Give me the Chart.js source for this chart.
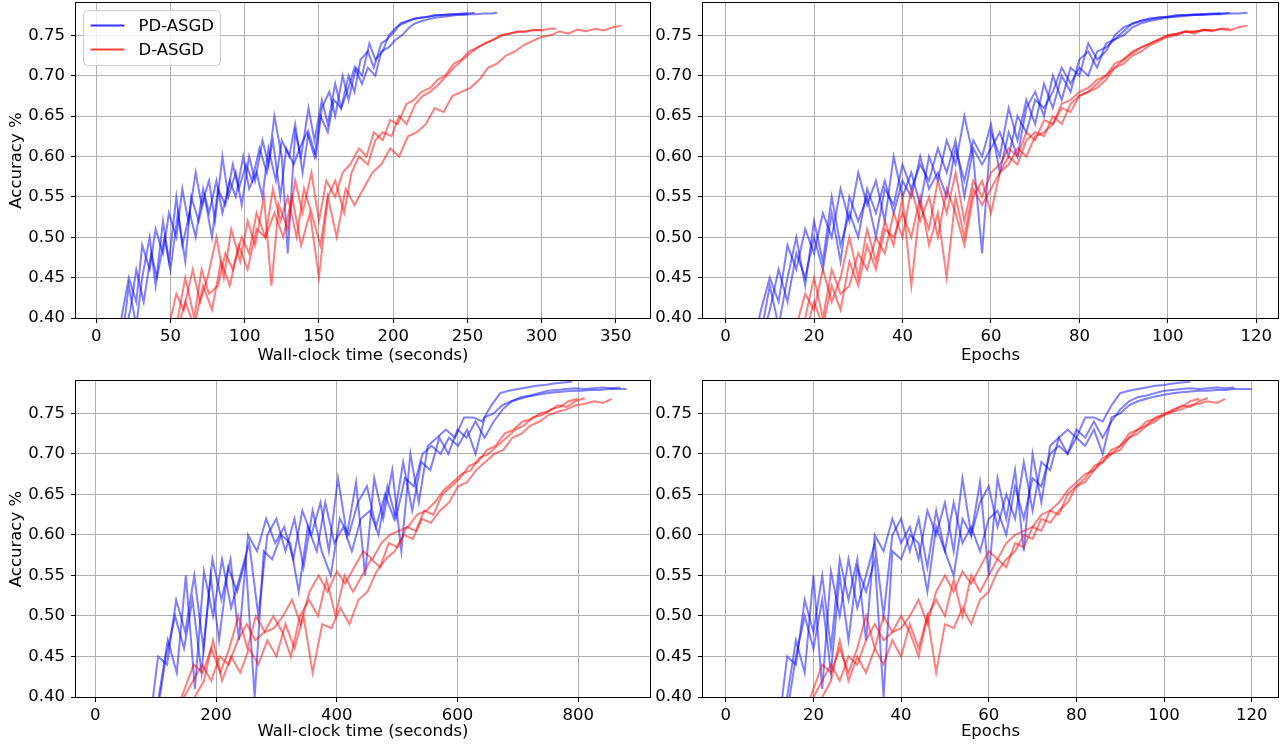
<!DOCTYPE html>
<html>
<head>
<meta charset="utf-8">
<script src="https://cdn.jsdelivr.net/npm/chart.js@4.4.0/dist/chart.umd.min.js"></script>
<style>
  body { margin: 0; background: #fff; }
  #wrap { position: relative; width: 1282px; height: 745px; overflow: hidden; background: #fff; }
  canvas { position: absolute; }
</style>
</head>
<body>
<div id="wrap">
  <canvas id="c-tl" width="660" height="372" style="left:0px;top:0px"></canvas>
  <canvas id="c-tr" width="652" height="372" style="left:630px;top:0px"></canvas>
  <canvas id="c-bl" width="660" height="373" style="left:0px;top:372px"></canvas>
  <canvas id="c-br" width="652" height="373" style="left:630px;top:372px"></canvas>
</div>
<script>
// ---- data ----
const legendNames = ['PD-ASGD', 'D-ASGD'];
const yTickVals = [0.40, 0.45, 0.50, 0.55, 0.60, 0.65, 0.70, 0.75];
const timeTicksTop = [0, 50, 100, 150, 200, 250, 300, 350];
const timeTicksBottom = [0, 200, 400, 600, 800];
const epochTicks = [0, 20, 40, 60, 80, 100, 120];

// epochs at which accuracy was logged
const epochsTop = [6,8,10,12,14,16,18,20,22,24,26,28,30,32,34,36,38,40,42,44,46,48,50,52,54,56,58,60,62,64,66,68,70,72,74,76,78,80,82,84,86,88,90,92,94,96,98,100,102,104,106,108,110,112,114,116,118];
const epochsBottom = [12,14,16,18,20,22,24,26,28,30,32,34,36,38,40,42,44,46,48,50,52,54,56,58,60,62,64,66,68,70,72,74,76,78,80,82,84,86,88,90,92,94,96,98,100,102,104,106,108,110,112,114,116,118,120];

// top row, PD-ASGD
const topPdAcc1 = [0.36,0.41,0.45,0.42,0.49,0.46,0.51,0.48,0.53,0.50,
  0.56,0.52,0.58,0.54,0.57,0.52,0.60,0.55,0.58,0.54,
  0.60,0.57,0.62,0.59,0.65,0.60,0.48,0.63,0.60,0.66,
  0.62,0.67,0.64,0.69,0.66,0.70,0.68,0.72,0.73,0.71,
  0.74,0.745,0.755,0.765,0.768,0.770,0.772,0.773,0.774,0.775,
  0.775,0.776,0.776,0.777];
const topPdTime1 = [13,18,22,27,31,36,40,45,49,54,
  58,62,67,71,76,80,85,89,94,98,
  103,107,112,116,120,125,129,134,138,143,
  147,152,156,161,165,170,174,178,183,187,
  192,196,201,205,210,214,219,223,227,232,
  236,241,245,250];
const topPdAcc2 = [0.34,0.38,0.44,0.39,0.45,0.50,0.44,0.52,0.47,0.55,
  0.49,0.53,0.50,0.56,0.53,0.57,0.53,0.57,0.55,0.60,
  0.56,0.58,0.55,0.61,0.57,0.62,0.60,0.64,0.58,0.63,
  0.60,0.66,0.68,0.65,0.70,0.67,0.71,0.70,0.74,0.72,
  0.73,0.75,0.76,0.764,0.768,0.771,0.772,0.773,0.775,0.775,
  0.776,0.776,0.777,0.777,0.778];
const topPdTime2 = [13,18,22,27,31,36,40,45,49,54,
  58,63,67,72,76,81,85,90,94,99,
  103,108,112,116,121,125,130,134,139,143,
  148,152,157,161,166,170,175,179,184,188,
  193,197,202,206,211,215,220,224,228,233,
  237,242,246,251,255];
const topPdAcc3 = [0.33,0.37,0.41,0.46,0.42,0.48,0.45,0.50,0.46,0.53,
  0.47,0.55,0.52,0.55,0.50,0.56,0.54,0.59,0.56,0.59,
  0.57,0.61,0.58,0.62,0.55,0.61,0.59,0.61,0.63,0.60,
  0.65,0.63,0.67,0.66,0.68,0.71,0.69,0.71,0.70,0.73,
  0.735,0.745,0.75,0.76,0.765,0.768,0.770,0.772,0.773,0.774,
  0.775,0.775,0.776,0.776,0.777,0.777,0.778];
const topPdTime3 = [14,18,23,27,32,37,41,46,50,55,
  60,64,69,73,78,82,87,92,96,101,
  105,110,115,119,124,128,133,137,142,147,
  151,156,160,165,169,174,179,183,188,192,
  197,202,206,211,215,220,224,229,234,238,
  243,247,252,256,261,266,270];

// top row, D-ASGD
const topDAcc1 = [0.28,0.30,0.32,0.34,0.36,0.39,0.43,0.41,0.46,0.42,
  0.45,0.50,0.45,0.51,0.47,0.52,0.49,0.55,0.44,0.54,
  0.51,0.57,0.53,0.58,0.52,0.57,0.55,0.58,0.59,0.61,
  0.60,0.63,0.62,0.645,0.64,0.665,0.67,0.68,0.685,0.695,
  0.70,0.715,0.72,0.73,0.735,0.74,0.745,0.75,0.752,0.754,
  0.755,0.756,0.757];
const topDTime1 = [22,27,33,38,43,49,54,59,65,70,
  75,81,86,91,97,102,107,113,118,123,
  129,134,139,145,150,155,161,166,171,177,
  182,187,193,198,203,209,214,219,225,230,
  235,241,246,251,257,262,268,273,278,284,
  289,294,300];
const topDAcc2 = [0.27,0.29,0.31,0.33,0.35,0.37,0.40,0.45,0.40,0.46,
  0.43,0.44,0.48,0.46,0.50,0.48,0.53,0.50,0.56,0.52,
  0.55,0.50,0.56,0.53,0.49,0.55,0.57,0.53,0.58,0.60,
  0.59,0.62,0.63,0.625,0.65,0.64,0.665,0.675,0.68,0.69,
  0.70,0.71,0.72,0.728,0.735,0.74,0.745,0.75,0.752,0.755,
  0.754,0.757,0.756,0.758,0.758];
const topDTime2 = [23,28,34,39,44,50,55,60,66,71,
  76,82,87,92,98,103,108,114,119,124,
  129,135,140,145,151,156,161,167,172,177,
  183,188,193,199,204,209,215,220,225,231,
  236,241,247,252,257,262,268,273,278,284,
  289,294,300,305,310];
const topDAcc3 = [0.26,0.28,0.30,0.32,0.34,0.36,0.38,0.42,0.39,0.44,
  0.41,0.47,0.44,0.49,0.46,0.51,0.50,0.53,0.50,0.55,
  0.49,0.53,0.45,0.55,0.50,0.56,0.54,0.56,0.58,0.59,
  0.61,0.60,0.625,0.63,0.64,0.66,0.655,0.675,0.68,0.685,
  0.695,0.71,0.715,0.725,0.73,0.738,0.743,0.748,0.75,0.755,
  0.752,0.757,0.755,0.758,0.756,0.76,0.762];
const topDTime3 = [18,24,30,36,42,48,54,60,66,72,
  78,84,90,96,102,108,114,120,126,132,
  138,144,150,156,162,168,174,180,186,192,
  198,204,210,216,222,228,234,240,246,252,
  258,264,270,276,282,288,294,300,306,312,
  318,324,330,336,342,348,354];

// bottom row, PD-ASGD
const botPdAcc1 = [0.36,0.45,0.44,0.52,0.48,0.55,0.46,0.57,0.52,0.57,
  0.47,0.60,0.58,0.62,0.59,0.61,0.57,0.63,0.60,0.64,
  0.58,0.67,0.60,0.665,0.55,0.67,0.62,0.68,0.58,0.70,
  0.64,0.71,0.72,0.73,0.72,0.745,0.745,0.74,0.76,0.775,
  0.778,0.78,0.782,0.784,0.785,0.787,0.788,0.789];
const botPdTime1 = [89,104,119,134,149,164,179,194,209,224,
  238,253,268,283,298,313,328,343,358,373,
  387,402,417,432,447,462,477,492,507,522,
  536,551,566,581,596,611,626,641,656,671,
  685,700,715,730,745,760,775,790];
const botPdAcc2 = [0.35,0.40,0.47,0.43,0.55,0.41,0.555,0.50,0.57,0.51,
  0.55,0.59,0.50,0.60,0.62,0.58,0.62,0.56,0.63,0.58,
  0.55,0.62,0.60,0.64,0.66,0.61,0.65,0.62,0.69,0.63,
  0.69,0.68,0.72,0.70,0.73,0.72,0.74,0.72,0.74,0.755,
  0.765,0.77,0.772,0.775,0.778,0.779,0.78,0.781,0.78,0.781,
  0.782,0.781,0.782];
const botPdTime2 = [90,105,120,135,150,165,180,195,210,225,
  240,255,270,285,300,315,330,345,360,375,
  390,405,420,435,450,465,480,495,510,525,
  540,555,570,585,600,615,630,645,660,675,
  690,705,720,735,750,765,780,795,810,825,
  840,855,870];
const botPdAcc3 = [0.34,0.38,0.45,0.50,0.46,0.52,0.43,0.55,0.47,0.56,
  0.53,0.57,0.40,0.58,0.57,0.60,0.59,0.53,0.61,0.58,
  0.64,0.59,0.61,0.58,0.62,0.63,0.60,0.66,0.62,0.67,
  0.66,0.70,0.71,0.70,0.72,0.71,0.73,0.70,0.745,0.75,
  0.76,0.765,0.768,0.771,0.773,0.775,0.776,0.777,0.778,0.778,
  0.779,0.779,0.78,0.78,0.78];
const botPdTime3 = [88,103,117,132,147,161,176,191,205,220,
  235,249,264,279,293,308,323,337,352,367,
  381,396,411,425,440,455,469,484,498,513,
  528,542,557,572,586,601,616,630,645,660,
  674,689,704,718,733,748,762,777,792,806,
  821,836,850,865,880];

// bottom row, D-ASGD
const botDAcc1 = [0.30,0.33,0.35,0.38,0.41,0.44,0.43,0.46,0.43,0.46,
  0.50,0.46,0.50,0.48,0.485,0.50,0.52,0.49,0.53,0.55,
  0.53,0.555,0.54,0.56,0.58,0.57,0.59,0.60,0.605,0.61,
  0.625,0.63,0.64,0.655,0.665,0.675,0.68,0.695,0.70,0.71,
  0.72,0.73,0.735,0.745,0.748,0.755,0.758,0.765,0.768];
const botDTime1 = [89,104,118,133,148,163,178,192,207,222,
  237,252,266,281,296,311,326,340,355,370,
  385,400,414,429,444,459,474,488,503,518,
  533,548,562,577,592,607,622,636,651,666,
  681,696,710,725,740,755,770,784,799];
const botDAcc2 = [0.29,0.31,0.34,0.37,0.40,0.42,0.44,0.42,0.45,0.44,
  0.47,0.49,0.47,0.48,0.50,0.48,0.45,0.50,0.52,0.50,
  0.545,0.50,0.55,0.53,0.55,0.57,0.56,0.59,0.585,0.61,
  0.605,0.63,0.625,0.65,0.66,0.67,0.685,0.69,0.705,0.71,
  0.725,0.73,0.74,0.743,0.75,0.753,0.76,0.758,0.765,0.769];
const botDTime2 = [88,103,118,133,147,162,177,192,206,221,
  236,251,265,280,295,310,324,339,354,369,
  383,398,413,427,442,457,472,486,501,516,
  531,545,560,575,590,604,619,634,649,663,
  678,693,708,722,737,752,766,781,796,811];
const botDAcc3 = [0.28,0.30,0.32,0.35,0.38,0.40,0.42,0.47,0.42,0.45,
  0.43,0.46,0.44,0.47,0.45,0.49,0.46,0.50,0.43,0.49,
  0.485,0.51,0.49,0.52,0.53,0.555,0.57,0.58,0.60,0.595,
  0.62,0.615,0.63,0.64,0.66,0.665,0.68,0.69,0.70,0.705,
  0.72,0.725,0.735,0.74,0.748,0.752,0.755,0.76,0.762,0.765,
  0.763,0.768];
const botDTime3 = [90,105,120,135,150,165,180,195,210,225,
  240,255,270,285,300,315,330,345,360,376,
  391,406,421,436,451,466,481,496,511,526,
  541,556,571,586,601,616,631,646,661,676,
  691,706,721,736,751,766,781,796,811,826,
  841,856];

// ---- styling ----
const BLUE = 'rgba(0, 0, 255, 0.5)';
const RED = 'rgba(255, 0, 0, 0.5)';
const FONT_SIZE = 16.5;

Chart.defaults.font.family = "'DejaVu Sans', sans-serif";
Chart.defaults.color = '#000';

function line(xs, ys, color, order) {
  return {
    data: ys.map((y, i) => ({ x: xs[i], y: y })),
    borderColor: color,
    borderWidth: 2,
    pointRadius: 0,
    tension: 0,
    fill: false,
    clip: 0,
    order: order
  };
}

// black box round the plot area, plus the legend when asked
const framePlugin = {
  id: 'frame',
  afterDraw(chart, args, opts) {
    const { ctx, chartArea: a } = chart;
    ctx.save();
    ctx.strokeStyle = '#000';
    ctx.lineWidth = 1;
    ctx.strokeRect(a.left - 0.5, a.top - 0.5, a.right - a.left + 1, a.bottom - a.top + 1);
    if (opts.legend) {
      const bx = a.left + 7.5, by = a.top + 7.5;
      ctx.beginPath();
      ctx.roundRect(bx, by, 137, 55, 4);
      ctx.fillStyle = 'rgba(255,255,255,0.8)';
      ctx.fill();
      ctx.strokeStyle = '#cccccc';
      ctx.stroke();
      const cols = ['rgba(0,0,255,0.8)', 'rgba(255,0,0,0.75)'];
      legendNames.forEach((name, i) => {
        const y = by + 15 + i * 24;
        ctx.strokeStyle = cols[i];
        ctx.lineWidth = 2;
        ctx.beginPath();
        ctx.moveTo(bx + 7, y);
        ctx.lineTo(bx + 41, y);
        ctx.stroke();
        ctx.fillStyle = '#000';
        ctx.font = FONT_SIZE + "px 'DejaVu Sans'";
        ctx.textBaseline = 'middle';
        ctx.textAlign = 'left';
        ctx.fillText(name, bx + 55, y + 1);
      });
    }
    ctx.restore();
  }
};

function makePanel(id, box, area, datasets, xMin, xMax, xTicks, xTitle, yTitle, titlePad, legend) {
  const yWidth = area.l - box.left;
  const padRight = box.left + box.w - area.r;
  const padTop = area.t - box.top;
  const xHeight = box.top + box.h - area.b;
  new Chart(document.getElementById(id), {
    type: 'line',
    data: { datasets: datasets },
    plugins: [framePlugin],
    options: {
      responsive: false,
      animation: false,
      devicePixelRatio: 1,
      layout: { padding: { left: 0, right: padRight, top: padTop, bottom: 0 } },
      plugins: {
        legend: { display: false },
        tooltip: { enabled: false },
        frame: { legend: legend }
      },
      scales: {
        x: {
          type: 'linear',
          min: xMin,
          max: xMax,
          afterBuildTicks: s => { s.ticks = xTicks.map(v => ({ value: v })); },
          afterFit: s => { s.height = xHeight; s.paddingLeft = 0; s.paddingRight = 0; },
          ticks: { font: { size: FONT_SIZE }, padding: 4, maxRotation: 0, autoSkip: false, color: '#000',
                   callback: v => String(v) },
          grid: { color: '#b0b0b0', lineWidth: 1, tickColor: '#000', tickLength: 5, tickWidth: 1 },
          border: { display: false },
          title: { display: true, text: xTitle, color: '#000', font: { size: FONT_SIZE, lineHeight: 1.2 },
                   padding: { top: 0, bottom: titlePad } }
        },
        y: {
          type: 'linear',
          min: 0.40,
          max: 0.79,
          afterBuildTicks: s => { s.ticks = yTickVals.map(v => ({ value: v })); },
          afterFit: s => { s.width = yWidth; s.paddingTop = 0; s.paddingBottom = 0; },
          ticks: { font: { size: FONT_SIZE }, padding: 6, color: '#000', callback: v => v.toFixed(2) },
          grid: { color: '#b0b0b0', lineWidth: 1, tickColor: '#000', tickLength: 5, tickWidth: 1 },
          border: { display: false },
          title: { display: !!yTitle, text: yTitle || '', color: '#000', font: { size: FONT_SIZE, lineHeight: 1.2 },
                   padding: { top: 7, bottom: 0 } }
        }
      }
    }
  });
}

const topTimeSets = [
  line(topPdTime1, topPdAcc1, BLUE, 1), line(topPdTime2, topPdAcc2, BLUE, 1), line(topPdTime3, topPdAcc3, BLUE, 1),
  line(topDTime1, topDAcc1, RED, 0), line(topDTime2, topDAcc2, RED, 0), line(topDTime3, topDAcc3, RED, 0)
];
const topEpochSets = [
  line(epochsTop, topPdAcc1, BLUE, 1), line(epochsTop, topPdAcc2, BLUE, 1), line(epochsTop, topPdAcc3, BLUE, 1),
  line(epochsTop, topDAcc1, RED, 0), line(epochsTop, topDAcc2, RED, 0), line(epochsTop, topDAcc3, RED, 0)
];
const botTimeSets = [
  line(botPdTime1, botPdAcc1, BLUE, 1), line(botPdTime2, botPdAcc2, BLUE, 1), line(botPdTime3, botPdAcc3, BLUE, 1),
  line(botDTime1, botDAcc1, RED, 0), line(botDTime2, botDAcc2, RED, 0), line(botDTime3, botDAcc3, RED, 0)
];
const botEpochSets = [
  line(epochsBottom, botPdAcc1, BLUE, 1), line(epochsBottom, botPdAcc2, BLUE, 1), line(epochsBottom, botPdAcc3, BLUE, 1),
  line(epochsBottom, botDAcc1, RED, 0), line(epochsBottom, botDAcc2, RED, 0), line(epochsBottom, botDAcc3, RED, 0)
];

makePanel('c-tl', { left: 0, top: 0, w: 660, h: 372 }, { l: 76, r: 650, t: 3, b: 318 },
  topTimeSets, -13.6, 373, timeTicksTop, 'Wall-clock time (seconds)', 'Accuracy %', 6, true);
makePanel('c-tr', { left: 630, top: 0, w: 652, h: 372 }, { l: 703, r: 1278, t: 3, b: 318 },
  topEpochSets, -5.1, 124.9, epochTicks, 'Epochs', null, 6, false);
makePanel('c-bl', { left: 0, top: 372, w: 660, h: 373 }, { l: 76, r: 650, t: 381, b: 697 },
  botTimeSets, -32, 919, timeTicksBottom, 'Wall-clock time (seconds)', 'Accuracy %', 3, false);
makePanel('c-br', { left: 630, top: 372, w: 652, h: 373 }, { l: 703, r: 1278, t: 381, b: 697 },
  botEpochSets, -5.2, 126, epochTicks, 'Epochs', null, 3, false);
</script>
</body>
</html>
